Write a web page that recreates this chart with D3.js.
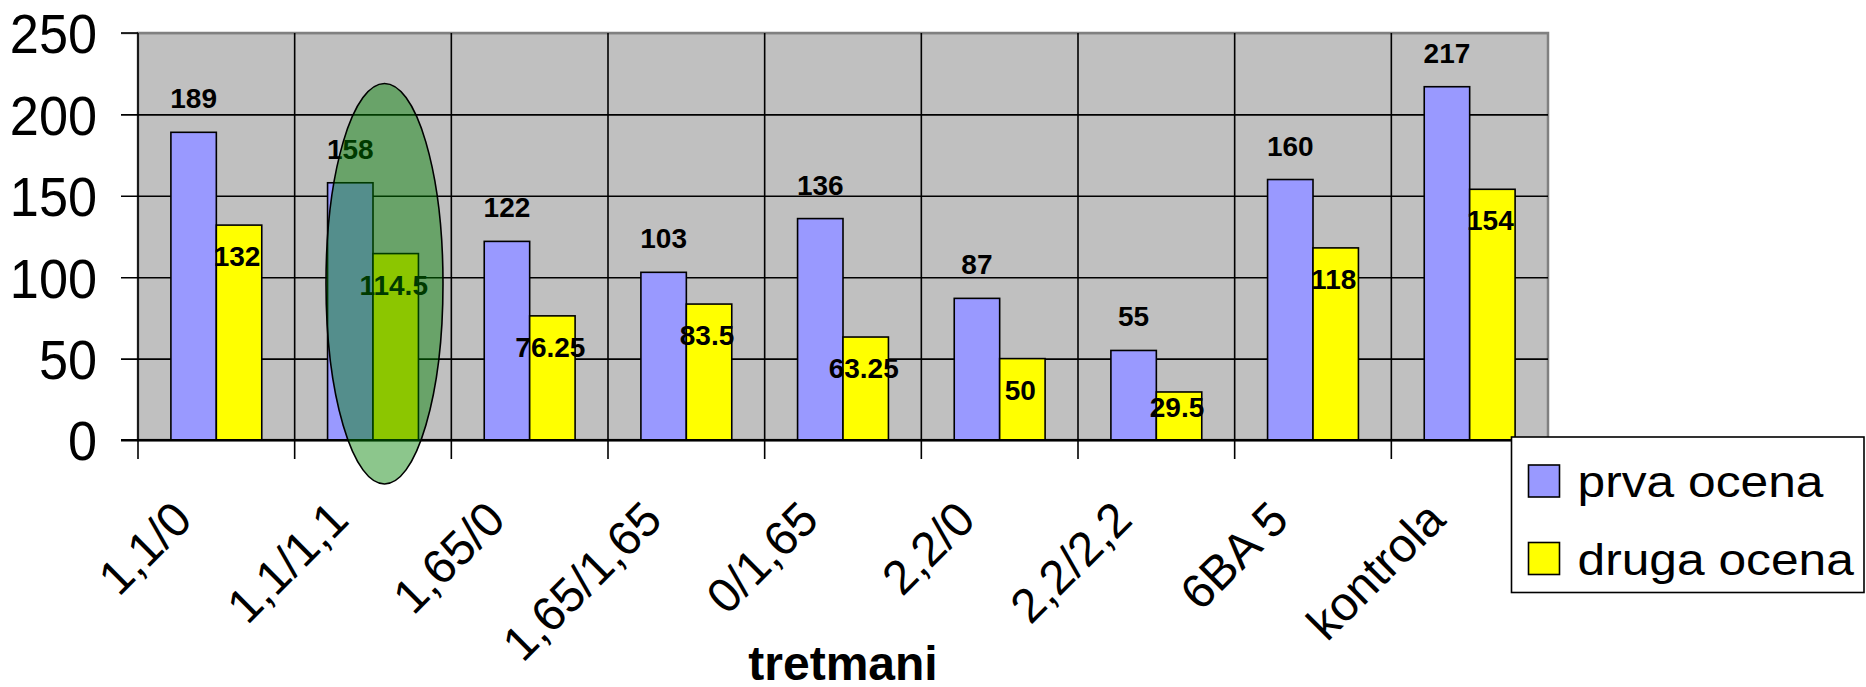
<!DOCTYPE html>
<html>
<head>
<meta charset="utf-8">
<script src="https://cdn.jsdelivr.net/npm/d3@7/dist/d3.min.js"></script>
<style>
  html, body { margin: 0; padding: 0; background: #ffffff; }
  svg { display: block; font-family: "Liberation Sans", Arial, sans-serif; }
</style>
</head>
<body>
<svg id="chart" width="1866" height="687"></svg>
<script>
const categories = ["1,1/0", "1,1/1,1", "1,65/0", "1,65/1,65", "0/1,65", "2,2/0", "2,2/2,2", "6BA 5", "kontrola"];
const prvaOcena = [189, 158, 122, 103, 136, 87, 55, 160, 217];
const drugaOcena = [132, 114.5, 76.25, 83.5, 63.25, 50, 29.5, 118, 154];
const seriesNames = ["prva ocena", "druga ocena"];
const seriesColors = ["#9999ff", "#ffff00"];
const yTicks = [0, 50, 100, 150, 200, 250];
const xTitle = "tretmani";
const highlight = { category: "1,1/1,1", low: -27, high: 219 };

(function () {
const svg = d3.select("#chart");
const pLeft = 138, pRight = 1548, pTop = 33, pBottom = 440;

const x = d3.scaleBand().domain(categories).range([pLeft, pRight]).padding(0);
const y = d3.scaleLinear().domain([0, 250]).range([pBottom, pTop]);
const bw = x.bandwidth();
const x1 = d3.scaleBand().domain(seriesNames).range([bw * 0.21, bw * 0.79]).padding(0);

const data = categories.map((c, i) => ({ cat: c, values: [prvaOcena[i], drugaOcena[i]] }));

// plot background
svg.append("rect")
  .attr("x", pLeft).attr("y", pTop)
  .attr("width", pRight - pLeft).attr("height", pBottom - pTop)
  .attr("fill", "#c0c0c0")
  .attr("stroke", "#808080").attr("stroke-width", 2.5);

// horizontal gridlines + y labels via axis
const yAxis = svg.append("g")
  .attr("transform", `translate(121,0)`)
  .call(d3.axisLeft(y).tickValues(yTicks).tickSize(-(pRight - 121)).tickPadding(24));
yAxis.select(".domain").remove();
yAxis.selectAll(".tick line")
  .attr("stroke", d => d === 250 ? "#808080" : "#000")
  .attr("stroke-width", d => d === 0 ? 2.2 : 1.6);
yAxis.selectAll(".tick text")
  .attr("x", null).attr("dy", "0.36em")
  .attr("transform", "translate(-24,0) scale(0.95,1)")
  .style("font-size", "55px")
  .style("font-family", "'Liberation Sans', Arial, sans-serif")
  .attr("fill", "#000");
svg.append("line")
  .attr("x1", 121).attr("x2", pLeft)
  .attr("y1", y(250)).attr("y2", y(250))
  .attr("stroke", "#000").attr("stroke-width", 1.6);

// vertical category boundary lines
const bounds = categories.map(c => x(c));
svg.append("g").selectAll("line").data(bounds).join("line")
  .attr("x1", d => d).attr("x2", d => d)
  .attr("y1", y(250)).attr("y2", pBottom + 19)
  .attr("stroke", "#000").attr("stroke-width", 1.6);
svg.append("line")
  .attr("x1", pRight).attr("x2", pRight)
  .attr("y1", pBottom).attr("y2", pBottom + 19)
  .attr("stroke", "#000").attr("stroke-width", 1.6);

// bars
const groups = svg.append("g").selectAll("g").data(data).join("g")
  .attr("transform", d => `translate(${x(d.cat)},0)`);
groups.selectAll("rect").data(d => d.values.map((v, j) => ({ v, s: seriesNames[j], j }))).join("rect")
  .attr("x", d => x1(d.s))
  .attr("width", x1.bandwidth())
  .attr("y", d => y(d.v))
  .attr("height", d => y(0) - y(d.v))
  .attr("fill", d => seriesColors[d.j])
  .attr("stroke", "#000").attr("stroke-width", 1.6);

// zero axis line
svg.append("line")
  .attr("x1", 121).attr("x2", pRight)
  .attr("y1", y(0)).attr("y2", y(0))
  .attr("stroke", "#000").attr("stroke-width", 2.2);

// data labels
groups.selectAll("text.lbl").data(d => d.values.map((v, j) => ({ v, s: seriesNames[j], j }))).join("text")
  .attr("class", "lbl")
  .attr("x", d => x1(d.s) + x1.bandwidth() / 2 - (d.j === 1 ? 2 : 0))
  .attr("y", d => d.j === 0 ? y(d.v) - 24 : Math.min(y(d.v) + 31, y(0) - 33) + 10)
  .attr("text-anchor", "middle")
  .style("font-size", "28px").style("font-weight", "bold")
  .attr("fill", "#000")
  .text(d => d.v);

// x axis labels
const xAxis = svg.append("g")
  .attr("transform", `translate(0,${pBottom})`)
  .call(d3.axisBottom(x).tickSize(0).tickPadding(0));
xAxis.select(".domain").remove();
xAxis.selectAll(".tick text")
  .attr("x", 0).attr("y", 0).attr("dy", null)
  .attr("transform", "translate(-22,82) rotate(-45)")
  .style("text-anchor", "end")
  .style("font-size", "48px")
  .style("font-family", "'Liberation Sans', Arial, sans-serif")
  .attr("fill", "#000");

// axis title
svg.append("text")
  .attr("x", (pLeft + pRight) / 2).attr("y", 680)
  .attr("text-anchor", "middle")
  .style("font-size", "48px").style("font-weight", "bold")
  .text(xTitle);

// highlight ellipse
const hx = x(highlight.category) + bw / 2 + 11.5;
svg.append("ellipse")
  .attr("cx", hx)
  .attr("cy", (y(highlight.low) + y(highlight.high)) / 2)
  .attr("rx", 58.5)
  .attr("ry", (y(highlight.low) - y(highlight.high)) / 2)
  .attr("fill", "#008000").attr("fill-opacity", 0.45)
  .attr("stroke", "#000").attr("stroke-width", 1.6);

// legend
const lg = svg.append("g").attr("transform", "translate(1511.5,437)");
lg.append("rect")
  .attr("x", 0).attr("y", 0).attr("width", 352.5).attr("height", 155.5)
  .attr("fill", "#fff").attr("stroke", "#000").attr("stroke-width", 1.6);
const items = lg.selectAll("g.item").data(seriesNames).join("g")
  .attr("class", "item")
  .attr("transform", (d, i) => `translate(0,${i * 77.5})`);
items.append("rect")
  .attr("x", 17).attr("y", 28).attr("width", 31).attr("height", 32)
  .attr("fill", (d, i) => seriesColors[i])
  .attr("stroke", "#000").attr("stroke-width", 1.6);
items.append("text")
  .attr("transform", "translate(66,60) scale(1.13,1)")
  .style("font-size", "44px")
  .text(d => d);
})();
</script>
</body>
</html>
